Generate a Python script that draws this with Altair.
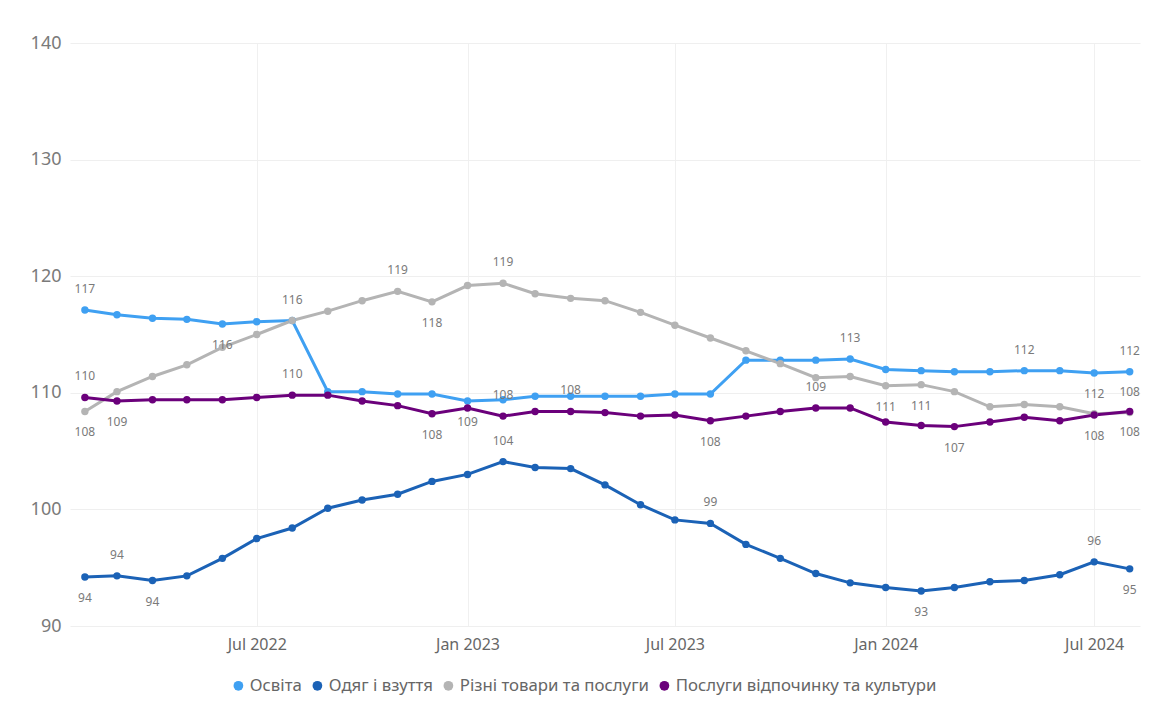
import altair as alt
import pandas as pd

months = pd.date_range("2022-02-01", "2024-08-01", freq="MS")

series_names = ["Освіта", "Одяг і взуття", "Різні товари та послуги", "Послуги відпочинку та культури"]
series_colors = ["#3FA0F2", "#1B62B6", "#B4B4B4", "#6B007B"]

osvita = [117.1, 116.7, 116.4, 116.3, 115.9, 116.1, 116.2, 110.1, 110.1, 109.9, 109.9,
          109.3, 109.4, 109.7, 109.7, 109.7, 109.7, 109.9, 109.9, 112.8, 112.8, 112.8, 112.9,
          112.0, 111.9, 111.8, 111.8, 111.9, 111.9, 111.7, 111.8]
odyag = [94.2, 94.3, 93.9, 94.3, 95.8, 97.5, 98.4, 100.1, 100.8, 101.3, 102.4,
         103.0, 104.1, 103.6, 103.5, 102.1, 100.4, 99.1, 98.8, 97.0, 95.8, 94.5, 93.7,
         93.3, 93.0, 93.3, 93.8, 93.9, 94.4, 95.5, 94.9]
rizni = [108.4, 110.1, 111.4, 112.4, 113.9, 115.0, 116.2, 117.0, 117.9, 118.7, 117.8,
         119.2, 119.4, 118.5, 118.1, 117.9, 116.9, 115.8, 114.7, 113.6, 112.5, 111.3, 111.4,
         110.6, 110.7, 110.1, 108.8, 109.0, 108.8, 108.2, 108.3]
posluhy = [109.6, 109.3, 109.4, 109.4, 109.4, 109.6, 109.8, 109.8, 109.3, 108.9, 108.2,
           108.7, 108.0, 108.4, 108.4, 108.3, 108.0, 108.1, 107.6, 108.0, 108.4, 108.7, 108.7,
           107.5, 107.2, 107.1, 107.5, 107.9, 107.6, 108.1, 108.4]

# data labels: month index lists, above / below the point
labels_above = {
    "Освіта": [0, 6, 22, 27, 30],
    "Одяг і взуття": [1, 12, 18, 29],
    "Різні товари та послуги": [9, 12, 30],
    "Послуги відпочинку та культури": [0, 6, 12, 14, 21],
}
labels_below = {
    "Освіта": [4, 11, 29],
    "Одяг і взуття": [0, 2, 24, 30],
    "Різні товари та послуги": [0, 10, 23, 24],
    "Послуги відпочинку та культури": [1, 10, 18, 25, 29, 30],
}

values = dict(zip(series_names, [osvita, odyag, rizni, posluhy]))

rows = []
for name in series_names:
    for m, v in zip(months, values[name]):
        rows.append({"date": m, "value": v, "series": name})
df = pd.DataFrame(rows)

lab_rows = []
for pos, d in (("above", labels_above), ("below", labels_below)):
    for name, idxs in d.items():
        for i in idxs:
            lab_rows.append({"date": months[i], "value": values[name][i], "series": name,
                             "pos": pos, "label": f"{values[name][i]:.0f}"})
ldf = pd.DataFrame(lab_rows)

FONT = "Segoe UI, Noto Sans, sans-serif"

x_enc = alt.X("date:T",
              scale=alt.Scale(domain=[alt.DateTime(year=2022, month=1, date=19),
                                      alt.DateTime(year=2024, month=8, date=10)]),
              axis=alt.Axis(title=None, format="%b %Y",
                            values=[alt.DateTime(year=2022, month=7, date=1),
                                    alt.DateTime(year=2023, month=1, date=1),
                                    alt.DateTime(year=2023, month=7, date=1),
                                    alt.DateTime(year=2024, month=1, date=1),
                                    alt.DateTime(year=2024, month=7, date=1)],
                            labelFontSize=16, labelColor="#666666", labelPadding=10,
                            domain=False, ticks=False, grid=True, gridColor="#F0F0F0",
                            labelFont=FONT))
y_enc = alt.Y("value:Q",
              scale=alt.Scale(domain=[90, 140], nice=False, zero=False),
              axis=alt.Axis(title=None, values=[90, 100, 110, 120, 130, 140],
                            labelFontSize=18, labelColor="#7a7a7a", labelPadding=9,
                            domain=False, ticks=False, grid=True, gridColor="#EFEFEF",
                            labelFont=FONT))
color_enc = alt.Color("series:N",
                      scale=alt.Scale(domain=series_names, range=series_colors),
                      legend=alt.Legend(title=None, orient="none", direction="horizontal",
                                        legendX=160, legendY=634,
                                        symbolType="circle", symbolSize=95,
                                        symbolStrokeWidth=0, labelFontSize=16.8,
                                        labelColor="#666666", labelFont=FONT,
                                        labelLimit=0, columnPadding=7, labelOffset=3))

base = alt.Chart(df)
lines = base.mark_line(strokeWidth=3).encode(x=x_enc, y=y_enc, color=color_enc,
                                              order=alt.Order("date:T"))
points = base.mark_point(filled=True, size=55, opacity=1).encode(
    x="date:T", y="value:Q", color=alt.Color("series:N", legend=None,
                                             scale=alt.Scale(domain=series_names, range=series_colors)))

lbase = alt.Chart(ldf)
text_above = lbase.transform_filter(alt.datum.pos == "above").mark_text(
    dy=-21, fontSize=12, color="#7a7a7a", font=FONT).encode(x="date:T", y="value:Q", text="label:N")
text_below = lbase.transform_filter(alt.datum.pos == "below").mark_text(
    dy=21, fontSize=12, color="#7a7a7a", font=FONT).encode(x="date:T", y="value:Q", text="label:N")

chart = alt.layer(lines, points, text_above, text_below).properties(
    width=1070, height=583,
    autosize=alt.AutoSizeParams(type="none"),
    padding={"left": 70, "top": 43, "right": 30, "bottom": 85},
    background="white",
).configure_view(stroke=None)

chart.save("out.html", embed_options={"renderer": "svg", "actions": False})
